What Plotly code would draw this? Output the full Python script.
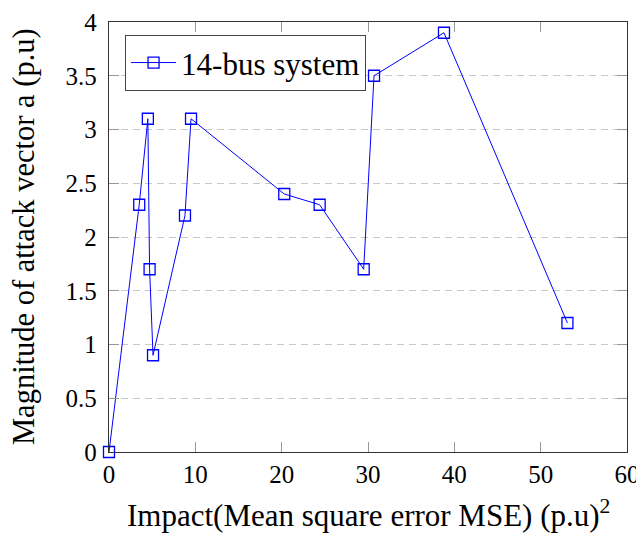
import plotly.graph_objects as go

series_name = "14-bus system"
mse_impact = [0, 3.5, 4.5, 4.7, 5.1, 8.8, 9.5, 20.3, 24.4, 29.5, 30.7, 38.8, 53.1]
attack_magnitude = [0, 2.3, 3.1, 1.7, 0.9, 2.2, 3.1, 2.4, 2.3, 1.7, 3.5, 3.9, 1.2]
x_ticks = [0, 10, 20, 30, 40, 50, 60]
y_ticks = [0, 0.5, 1, 1.5, 2, 2.5, 3, 3.5, 4]
y_tick_labels = ["0", "0.5", "1", "1.5", "2", "2.5", "3", "3.5", "4"]
x_title = "Impact(Mean square error MSE) (p.u)<sup>2</sup>"
y_title = "Magnitude of attack vector a (p.u)"

fig = go.Figure()
fig.add_trace(go.Scatter(
    x=mse_impact, y=attack_magnitude, mode="lines+markers", name=series_name,
    line=dict(color="#0000ff", width=1),
    marker=dict(symbol="square-open", size=11, color="#0000ff", line=dict(width=1.3, color="#0000ff")),
    cliponaxis=False,
))

font = "Liberation Serif"
fig.update_layout(
    width=636, height=526,
    margin=dict(l=101, r=17, t=14, b=82),
    paper_bgcolor="white", plot_bgcolor="white",
    font=dict(family=font, color="black"),
    showlegend=True,
    legend=dict(x=0.031, y=0.97, xanchor="left", yanchor="top",
                bordercolor="#444", borderwidth=1, bgcolor="white",
                itemwidth=45,
                font=dict(size=31, family=font)),
    annotations=[
        dict(text=x_title, xref="paper", yref="paper", x=0.5, y=0, yshift=-61,
             xanchor="center", yanchor="middle", showarrow=False,
             font=dict(size=31, family=font, color="black")),
        dict(text=y_title, xref="paper", yref="paper", x=0, y=0.5, xshift=-85,
             xanchor="center", yanchor="middle", textangle=-90, showarrow=False,
             font=dict(size=30.5, family=font, color="black")),
    ],
)
fig.update_xaxes(
    range=[0, 60], tickvals=x_ticks, ticks="inside", ticklen=10, tickcolor="#999",
    tickwidth=1.2, mirror="allticks", showline=True, linecolor="#333", linewidth=1.3,
    showgrid=False, zeroline=False, tickfont=dict(size=25, family=font),
    automargin=False,
)
fig.update_yaxes(
    range=[0, 4], tickvals=y_ticks, ticktext=y_tick_labels, ticks="inside", ticklen=10, tickcolor="#999",
    tickwidth=1.2, mirror="allticks", showline=True, linecolor="#333", linewidth=1.3,
    showgrid=True, gridcolor="#c8c8c8", gridwidth=1, griddash="7px,5px",
    zeroline=False, tickfont=dict(size=25, family=font),
    ticklabelstandoff=6, automargin=False,
)
fig.write_html("out.html")
